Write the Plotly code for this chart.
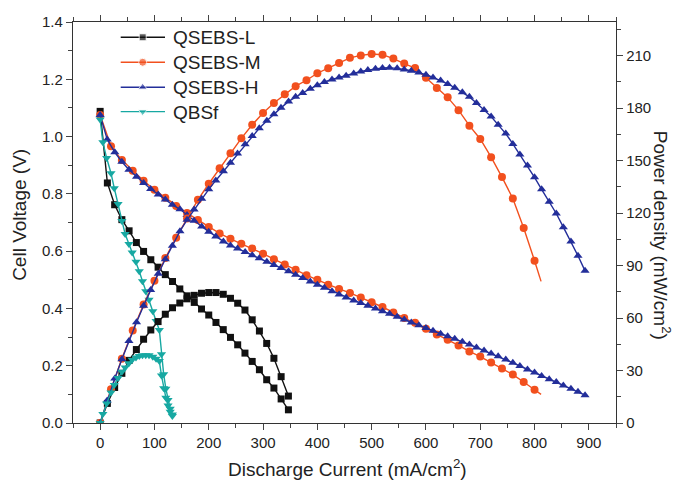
import plotly.graph_objects as go

# ---------------- data ----------------
L_x = [0, 13.3, 26.7, 40, 53.3, 66.7, 80, 93.3, 106.7, 120, 133.3, 146.7, 160, 173.3, 186.7,
       200, 213.3, 226.7, 240, 253.3, 266.7, 280, 293.3, 306.7, 320, 333.3, 346.7]
L_v = [1.088, 0.838, 0.762, 0.71, 0.671, 0.63, 0.599, 0.57, 0.544, 0.518, 0.494, 0.468, 0.444,
       0.421, 0.398, 0.377, 0.351, 0.326, 0.299, 0.273, 0.244, 0.215, 0.186, 0.151, 0.122, 0.084, 0.046]
L_p = [0, 11.2, 20.3, 28.4, 35.8, 42.0, 47.9, 53.2, 58.0, 62.2, 65.9, 68.6, 71.0, 73.0, 74.2,
       74.6, 74.6, 73.6, 71.3, 68.5, 64.6, 59.0, 52.6, 45.5, 37.0, 26.5, 15.4]

M_x = [0, 20, 40, 60, 80, 100, 120, 140, 160, 180, 200, 220, 240, 260, 280, 300, 320, 340, 360, 380,
       400, 420, 440, 460, 480, 500, 520, 540, 560, 580, 600, 620, 640, 660, 680, 700, 720, 740, 760, 780, 800]
M_v = [1.075, 0.966, 0.918, 0.881, 0.846, 0.814, 0.786, 0.758, 0.733, 0.709, 0.684, 0.662, 0.643, 0.626,
       0.609, 0.591, 0.572, 0.553, 0.535, 0.516, 0.5, 0.483, 0.468, 0.454, 0.438, 0.422, 0.405, 0.386,
       0.367, 0.35, 0.329, 0.309, 0.291, 0.271, 0.25, 0.232, 0.211, 0.19, 0.169, 0.143, 0.116]
M_p = [0, 19.3, 36.7, 52.9, 67.7, 81.4, 94.3, 106.0, 117.0, 127.6, 136.8, 145.6, 154.3, 162.8, 170.5,
       177.3, 183.0, 188.0, 192.6, 196.0, 200.0, 202.9, 205.9, 208.8, 210.2, 211.0, 210.6, 208.4, 205.5,
       203.0, 197.4, 191.6, 186.2, 178.9, 170.0, 162.4, 152.0, 140.6, 128.4, 111.5, 92.8]
M_tail_x = [800, 812]
M_tail_v = [0.116, 0.1]
M_tail_p = [92.8, 81.0]

H_x = [0, 13, 27, 40, 53, 67, 80, 93, 107, 120, 133, 147, 160, 173, 187, 200, 213, 227, 240, 253,
       267, 280, 293, 307, 320, 333, 347, 360, 373, 387, 400, 413, 427, 440, 453, 467, 480, 493, 507,
       520, 533, 547, 560, 573, 587, 600, 613, 627, 640, 653, 667, 680, 693, 707, 720, 733, 747, 760,
       773, 787, 800, 813, 827, 840, 853, 867, 880, 893]
H_v = [1.075, 0.99, 0.945, 0.912, 0.884, 0.86, 0.838, 0.817, 0.798, 0.78, 0.762, 0.746, 0.726, 0.706,
       0.686, 0.668, 0.651, 0.634, 0.62, 0.609, 0.597, 0.586, 0.575, 0.563, 0.552, 0.541, 0.53, 0.518,
       0.506, 0.494, 0.483, 0.472, 0.46, 0.449, 0.438, 0.428, 0.419, 0.409, 0.4, 0.39, 0.381, 0.371,
       0.361, 0.351, 0.341, 0.332, 0.322, 0.312, 0.303, 0.294, 0.284, 0.274, 0.264, 0.253, 0.243, 0.233,
       0.222, 0.21, 0.199, 0.187, 0.176, 0.164, 0.153, 0.143, 0.131, 0.12, 0.109, 0.097]
H_p = [0, 12.9, 25.5, 36.5, 46.9, 57.6, 67.0, 76.0, 85.4, 93.6, 101.3, 109.7, 116.2, 122.1, 128.3,
       133.6, 138.7, 143.9, 148.8, 154.1, 159.4, 164.1, 168.5, 172.8, 176.6, 180.2, 183.9, 186.5, 188.7,
       191.2, 193.2, 195.0, 196.4, 197.6, 198.6, 199.9, 201.0, 201.8, 202.5, 203.0, 203.2, 202.8, 202.2,
       201.4, 200.4, 199.2, 197.6, 195.9, 193.9, 191.7, 189.2, 186.5, 183.0, 179.0, 175.3, 170.5, 165.5,
       159.6, 153.6, 147.2, 140.5, 133.6, 126.5, 119.8, 112.0, 103.8, 95.6, 87.0]

F_x = [0, 5, 12, 20, 26, 33, 40, 46, 53, 59, 66, 72, 78, 84, 90, 97, 103, 109, 113, 117, 121, 125, 129, 133]
F_v = [1.06, 0.98, 0.925, 0.872, 0.82, 0.765, 0.705, 0.66, 0.625, 0.595, 0.563, 0.53, 0.495, 0.46,
       0.43, 0.39, 0.356, 0.325, 0.24, 0.17, 0.12, 0.08, 0.05, 0.03]
F_p = [0, 5.2, 11.1, 17.4, 21.8, 25.8, 29.3, 31.8, 34.2, 36.1, 37.5, 38.3, 38.7, 38.8, 38.7, 37.9,
       36.7, 35.4, 27.1, 19.9, 14.5, 10.0, 6.5, 4.0]

names = ["QSEBS-L", "QSEBS-M", "QSEBS-H", "QBSf"]
colors = ["#111111", "#F2501E", "#232E9A", "#17A8A2"]
symbols = ["square", "circle", "triangle-up", "triangle-down"]

x_range = [-50, 950]
v_range = [0, 1.4]
p_range = [0, 229.3]

# ---------------- layout helpers (page pixel frame for legend / titles) ----------------
OFF = 8                       # default page body margin
PLOT_L, PLOT_R, PLOT_T, PLOT_B = 73, 616, 22, 423.3
W, H = 680 - OFF, 480 - OFF
FONT = "Liberation Sans, Arial, sans-serif"
TXT = "#222222"


def px_to_paper(px, py):
    return (px - PLOT_L) / (PLOT_R - PLOT_L), (PLOT_B - py) / (PLOT_B - PLOT_T)


fig = go.Figure()
series = [(L_x, L_v, L_p), (M_x, M_v, M_p), (H_x, H_v, H_p), (F_x, F_v, F_p)]
msizes = [7, 8, 8, 8]
for (xs, vs, ps), nm, c, s, ms in zip(series, names, colors, symbols, msizes):
    fig.add_trace(go.Scatter(x=xs, y=vs, name=nm, mode="lines+markers", showlegend=False,
                             line=dict(color=c, width=1.4), marker=dict(symbol=s, size=ms, color=c),
                             xaxis="x", yaxis="y"))
    fig.add_trace(go.Scatter(x=xs, y=ps, name=nm, mode="lines+markers", showlegend=False,
                             line=dict(color=c, width=1.4), marker=dict(symbol=s, size=ms, color=c),
                             xaxis="x", yaxis="y2"))
fig.add_trace(go.Scatter(x=M_tail_x, y=M_tail_v, mode="lines", showlegend=False,
                         line=dict(color=colors[1], width=1.4), yaxis="y"))
fig.add_trace(go.Scatter(x=M_tail_x, y=M_tail_p, mode="lines", showlegend=False,
                         line=dict(color=colors[1], width=1.4), yaxis="y2"))

# custom legend drawn in a hidden pixel-frame axis
leg_rows = [37.3, 62.3, 87.3, 111.7]
for nm, c, s, ms, yy in zip(names, colors, symbols, msizes, leg_rows):
    fig.add_trace(go.Scatter(x=[120.7, 142.7, 165], y=[yy, yy, yy], mode="lines+markers",
                             showlegend=False, hoverinfo="skip",
                             line=dict(color=c, width=1.4),
                             marker=dict(symbol=s, size=[0, ms, 0], color=c),
                             xaxis="x3", yaxis="y3"))
    fig.add_annotation(text=nm, x=171, y=yy + 0.5, xref="x3", yref="y3", xanchor="left",
                       yanchor="middle", showarrow=False, font=dict(size=19, color=TXT, family=FONT))

axis_font = dict(family=FONT, size=15, color=TXT)
common = dict(ticks="outside", ticklen=6, tickwidth=1.3, showline=True, linecolor="#333333",
              linewidth=1.3, showgrid=False, zeroline=False, tickfont=axis_font, automargin=False)
fig.update_layout(
    width=W, height=H,
    margin=dict(l=PLOT_L - OFF, r=W + OFF - PLOT_R, t=PLOT_T - OFF, b=H + OFF - PLOT_B, autoexpand=False),
    paper_bgcolor="white", plot_bgcolor="white",
    font=dict(family=FONT, size=15, color=TXT),
    showlegend=False,
    xaxis=dict(range=x_range, dtick=100, tick0=0, mirror="ticks",
               minor=dict(dtick=50, tick0=0, ticks="outside", ticklen=3.5, tickwidth=1.2), **common),
    yaxis=dict(range=v_range, dtick=0.2, tickformat=".1f",
               minor=dict(dtick=0.1, ticks="outside", ticklen=3.5, tickwidth=1.2), **common),
    yaxis2=dict(range=p_range, dtick=30, tick0=0, overlaying="y", side="right",
                minor=dict(dtick=15, ticks="outside", ticklen=3.5, tickwidth=1.2), **common),
    xaxis3=dict(range=[PLOT_L, PLOT_R], overlaying="x", visible=False, fixedrange=True),
    yaxis3=dict(range=[PLOT_B, PLOT_T], overlaying="y", visible=False, fixedrange=True),
)

title_font = dict(size=19, color=TXT, family=FONT)
bx, by = px_to_paper(347, 468)
lx, ly = px_to_paper(20, 215)
rx, ry = px_to_paper(662, 235)
fig.add_annotation(text="Discharge Current (mA/cm<sup>2</sup>)", x=bx, y=by, xref="paper", yref="paper",
                   showarrow=False, xanchor="center", yanchor="middle", font=title_font)
fig.add_annotation(text="Cell Voltage (V)", x=lx, y=ly, xref="paper", yref="paper", textangle=-90,
                   showarrow=False, xanchor="center", yanchor="middle", font=title_font)
fig.add_annotation(text="Power density (mW/cm<sup>2</sup>)", x=rx, y=ry, xref="paper", yref="paper",
                   textangle=90, showarrow=False, xanchor="center", yanchor="middle", font=title_font)

fig.write_html("out.html")
